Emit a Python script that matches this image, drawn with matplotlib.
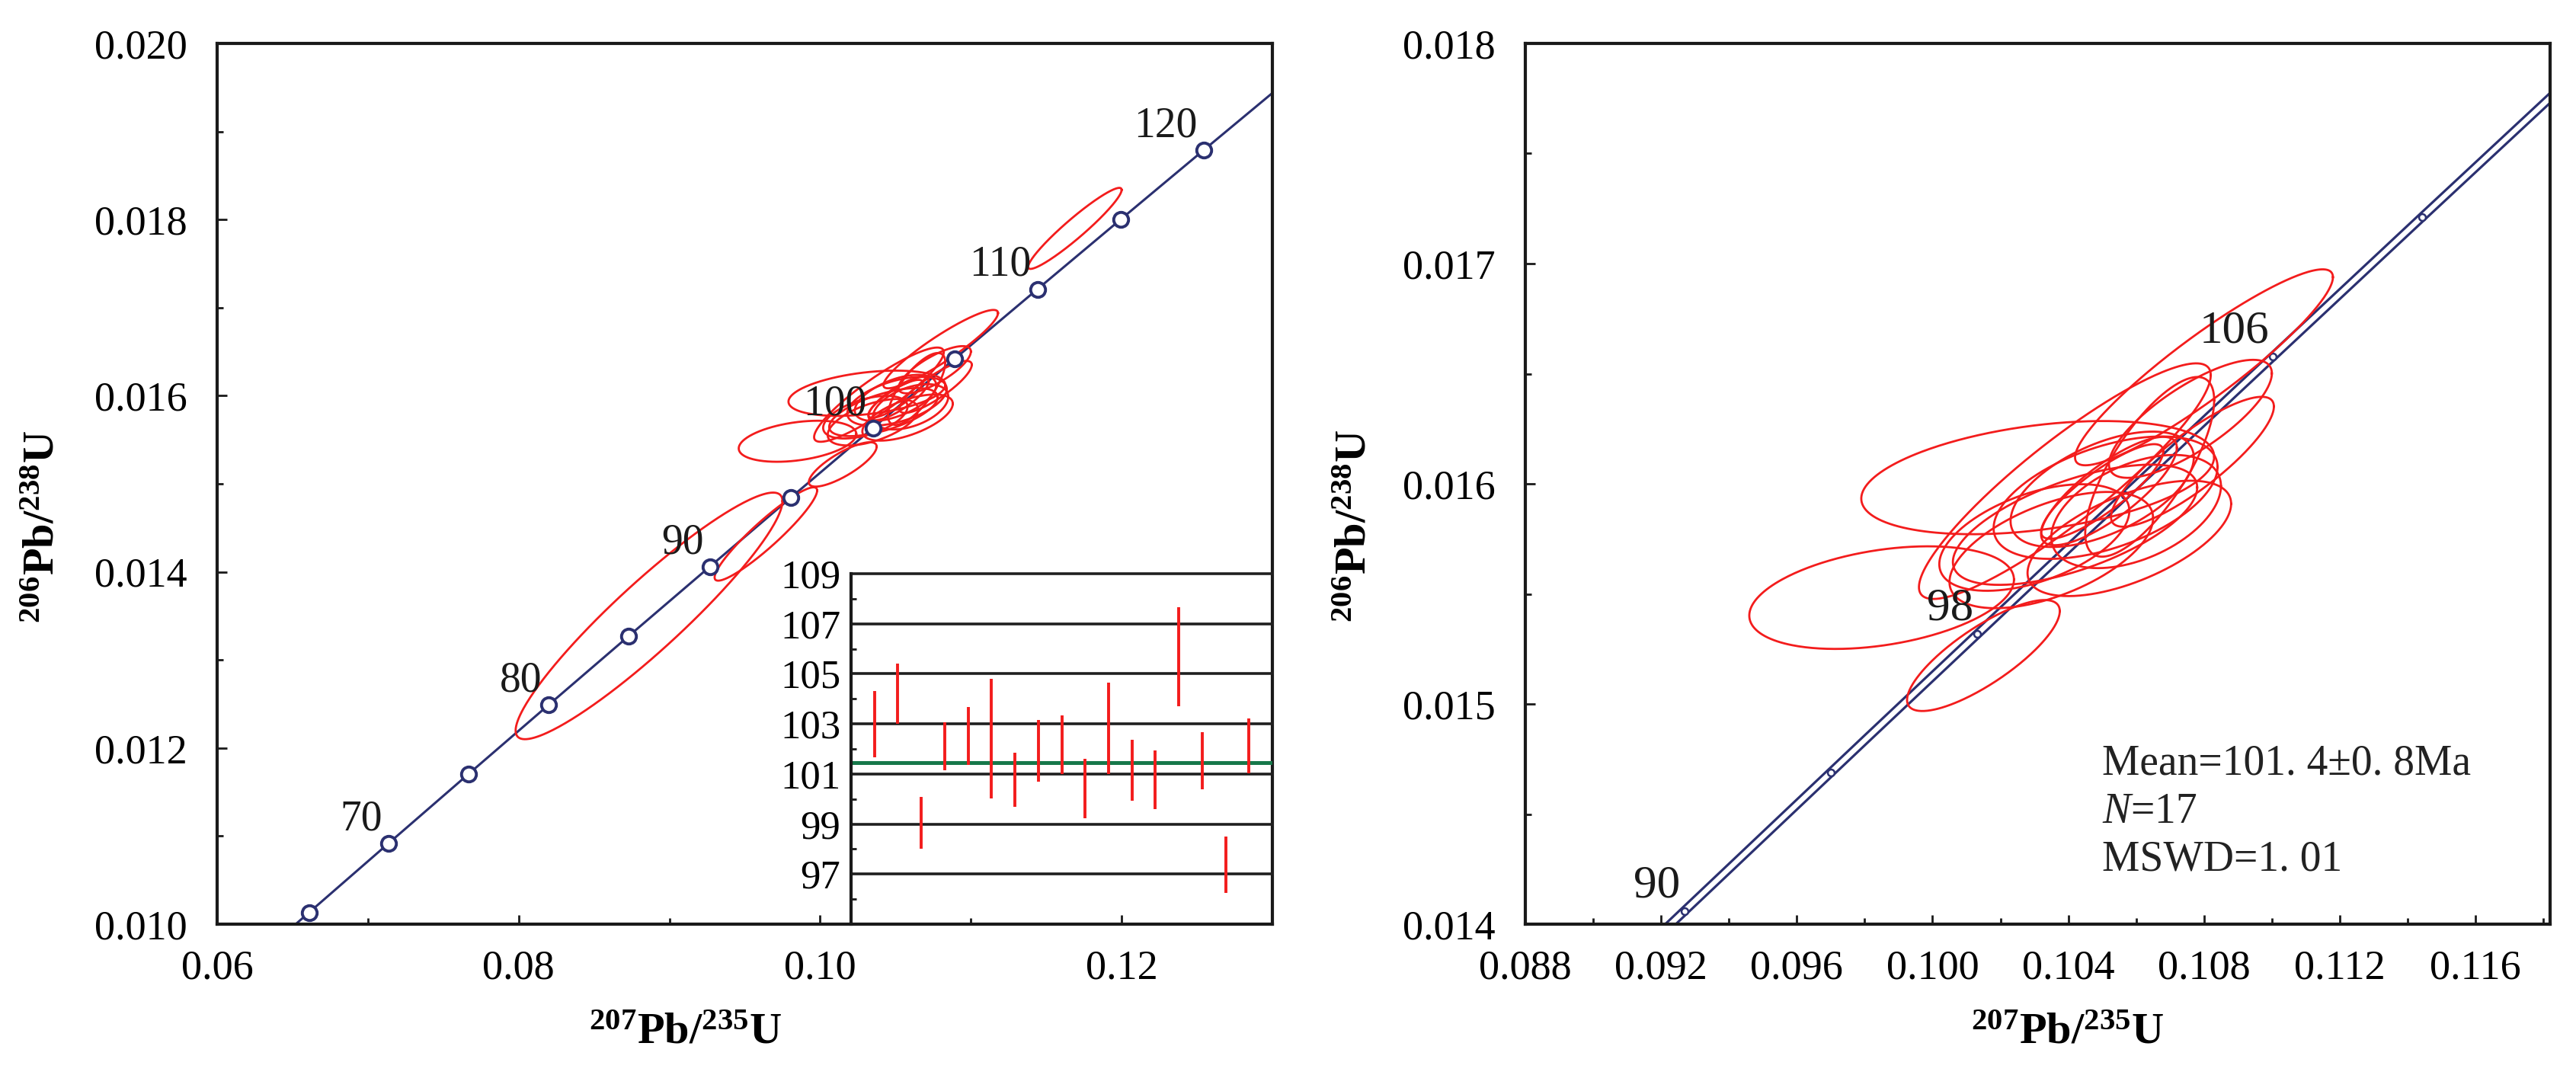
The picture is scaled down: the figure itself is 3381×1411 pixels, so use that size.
import numpy as np
import matplotlib
matplotlib.use('Agg')
import matplotlib.pyplot as plt
from matplotlib.ticker import MultipleLocator, FixedLocator, FormatStrFormatter

plt.rcParams['font.family'] = ['Liberation Serif', 'DejaVu Serif']
plt.rcParams['mathtext.fontset'] = 'custom'
plt.rcParams['mathtext.rm'] = 'Liberation Serif'
plt.rcParams['mathtext.bf'] = 'Liberation Serif:bold'
plt.rcParams['mathtext.it'] = 'Liberation Serif:italic'

# ---------------- data ----------------
# Concordia reference points (age in Ma, 207Pb/235U, 206Pb/238U)
conc_age = [60, 65, 70, 75, 80, 85, 90, 95, 100, 105, 110, 115, 120, 125, 130]
conc_x = [0.060872, 0.066109, 0.071371, 0.076660, 0.081975, 0.087316, 0.092683,
          0.098077, 0.103498, 0.108945, 0.114419, 0.119920, 0.125448, 0.131004, 0.136588]
conc_y = [0.0093508, 0.0101340, 0.0109177, 0.0117024, 0.0124873, 0.0132729, 0.0140592,
          0.0148460, 0.0156334, 0.0164215, 0.0172102, 0.0179994, 0.0187894, 0.0195798, 0.0203710]
left_marker_ages = [65, 70, 75, 80, 85, 90, 95, 100, 105, 110, 115, 120]
left_label_ages = [70, 80, 90, 100, 110, 120]

right_marker_ages = [90, 94, 98, 102, 106, 110]
right_marker_x = [0.092683, 0.096996, 0.101326, 0.105674, 0.110038, 0.114419]
right_marker_y = [0.0140592, 0.0146886, 0.0153184, 0.0159486, 0.0165792, 0.0172102]
right_label_ages = [90, 98, 106]

# Error ellipses (17 analyses used in the mean): centre, half-width, correlation
ell_x = [0.10766, 0.1076, 0.0985, 0.1050, 0.1031, 0.1039, 0.1030, 0.1051, 0.1050,
         0.1035, 0.1064, 0.1042, 0.1058, 0.1080, 0.1060, 0.1015, 0.1052]
ell_sx = [0.0024, 0.0024, 0.0039, 0.0018, 0.0052, 0.0043, 0.0028, 0.0033, 0.0027,
          0.0030, 0.0019, 0.0036, 0.0030, 0.0038, 0.0025, 0.00225, 0.0020]
ell_y = [0.016100, 0.016295, 0.015483, 0.015965, 0.016028, 0.016012, 0.015756, 0.015937,
         0.015975, 0.015699, 0.016077, 0.015814, 0.015752, 0.016529, 0.015874, 0.015220, 0.015967]
ell_sy = [0.000295, 0.000268, 0.000233, 0.000215, 0.000257, 0.000535, 0.000242, 0.000278,
          0.000262, 0.000264, 0.000408, 0.000273, 0.000262, 0.000445, 0.000257, 0.000252, 0.000246]
ell_rho = [0.85, 0.77, 0.35, 0.85, 0.37, 0.90, 0.50, 0.50, 0.55, 0.55, 0.74, 0.62,
           0.60, 0.92, 0.45, 0.80, 0.80]

# Additional analyses shown only on the full concordia
ext_x = [0.08865, 0.0964, 0.1169]
ext_sx = [0.00885, 0.0034, 0.0031]
ext_y = [0.0135, 0.01443, 0.0179]
ext_sy = [0.0014, 0.00053, 0.00046]
ext_rho = [0.93, 0.93, 0.95]

# Inset: 206Pb/238U ages (Ma) with error bars
age_index = list(range(1, 18))
age_val = [102.98, 104.20, 99.05, 102.11, 102.51, 102.41, 100.78, 101.93, 102.17,
           100.42, 102.82, 101.15, 100.76, 105.69, 101.53, 97.38, 102.12]
age_err = [1.32, 1.20, 1.04, 0.96, 1.15, 2.39, 1.08, 1.24, 1.17,
           1.18, 1.82, 1.22, 1.17, 1.98, 1.15, 1.13, 1.10]
mean_age = 101.45
inset_grid = [97, 99, 101, 103, 105, 107, 109]
inset_ticks = [97, 99, 101, 103, 105, 107, 109]

stats_text = ["Mean=101. 4\u00b10. 8Ma", "$N$=17", "MSWD=1. 01"]

# ---------------- styles ----------------
NAVY = '#2b3070'
RED = '#f31c1c'
GREEN = '#17784a'
W, H = 3381, 1411
DPI = 200

fig = plt.figure(figsize=(W / DPI, H / DPI), dpi=DPI)


def px_axes(l, t, r, b):
    return [l / W, 1 - b / H, (r - l) / W, (b - t) / H]


def ellipse(cx, sx, cy, sy, rho, n=300):
    t = np.linspace(0, 2 * np.pi, n)
    x = cx + sx * np.cos(t)
    y = cy + sy * (rho * np.cos(t) + np.sqrt(1 - rho ** 2) * np.sin(t))
    return x, y


def style_axes(ax):
    for s in ax.spines.values():
        s.set_linewidth(1.5)
        s.set_color('#1a1a1a')
    ax.tick_params(which='both', direction='in', top=False, right=False,
                   labelsize=19.5, width=1.0, color='#1a1a1a')
    ax.tick_params(which='major', length=4.5)
    ax.tick_params(which='minor', length=3.0)
    ax.tick_params(axis='x', pad=12)
    ax.tick_params(axis='y', pad=14)


# ---------------- left panel ----------------
axL = fig.add_axes(px_axes(285, 57, 1670, 1213))
axL.set_xlim(0.06, 0.13)
axL.set_ylim(0.010, 0.020)
axL.plot(conc_x, conc_y, color=NAVY, lw=1.1, zorder=2)

for cx, sx, cy, sy, r in zip(ell_x + ext_x, ell_sx + ext_sx, ell_y + ext_y,
                             ell_sy + ext_sy, ell_rho + ext_rho):
    ex, ey = ellipse(cx, sx, cy, sy, r)
    axL.plot(ex, ey, color=RED, lw=1.0, zorder=3)

mx = [conc_x[conc_age.index(a)] for a in left_marker_ages]
my = [conc_y[conc_age.index(a)] for a in left_marker_ages]
axL.plot(mx, my, 'o', ms=7, mfc='white', mec=NAVY, mew=1.4, zorder=5)
for a in left_label_ages:
    i = conc_age.index(a)
    axL.annotate(str(a), (conc_x[i], conc_y[i]), xytext=(-3, 2), textcoords='offset points',
                 ha='right', va='bottom', fontsize=20, color='#1a1a1a', zorder=6)

axL.xaxis.set_major_locator(FixedLocator([0.06, 0.08, 0.10, 0.12]))
axL.xaxis.set_major_formatter(FormatStrFormatter('%.2f'))
axL.xaxis.set_minor_locator(MultipleLocator(0.01))
axL.yaxis.set_major_locator(MultipleLocator(0.002))
axL.yaxis.set_major_formatter(FormatStrFormatter('%.3f'))
axL.yaxis.set_minor_locator(MultipleLocator(0.001))
style_axes(axL)

axL.text(0.444, -0.123, r'$\mathbf{^{207}Pb/^{235}U}$', transform=axL.transAxes,
         ha='center', va='center', fontsize=21)
axL.text(-0.165, 0.451, r'$\mathbf{^{206}Pb/^{238}U}$', transform=axL.transAxes,
         ha='center', va='center', fontsize=21, rotation=90)

# ---------------- inset ----------------
axI = fig.add_axes(px_axes(1117, 753, 1670, 1213))
axI.patch.set_alpha(0)
axI.set_xlim(0, 18)
axI.set_ylim(95, 109)
for g in inset_grid:
    axI.axhline(g, color='#1f1f1f', lw=1.3, zorder=1, clip_on=False)
axI.axhline(mean_age, color=GREEN, lw=1.8, zorder=2)
axI.vlines(age_index, [v - e for v, e in zip(age_val, age_err)],
           [v + e for v, e in zip(age_val, age_err)], color=RED, lw=1.4, zorder=3)
for side in ['top', 'right', 'bottom']:
    axI.spines[side].set_visible(False)
axI.spines['left'].set_linewidth(1.5)
axI.spines['left'].set_color('#1a1a1a')
axI.set_xticks([])
axI.yaxis.set_major_locator(FixedLocator(inset_ticks))
axI.yaxis.set_minor_locator(FixedLocator([96, 98, 100, 102, 104, 106, 108]))
axI.tick_params(axis='y', which='both', direction='in', labelsize=19, pad=5, color='#1a1a1a')
axI.tick_params(axis='y', which='major', length=0)
axI.tick_params(axis='y', which='minor', length=2.5, width=1.0)

# ---------------- right panel ----------------
axR = fig.add_axes(px_axes(2002, 57, 3347, 1213))
axR.set_xlim(0.088, 0.1182)
axR.set_ylim(0.014, 0.018)
axR.plot(conc_x, conc_y, color=NAVY, lw=4.6, zorder=2, solid_capstyle='butt')
axR.plot(conc_x, conc_y, color='white', lw=2.3, zorder=2.1, solid_capstyle='butt')
for cx, sx, cy, sy, r in zip(ell_x, ell_sx, ell_y, ell_sy, ell_rho):
    ex, ey = ellipse(cx, sx, cy, sy, r)
    axR.plot(ex, ey, color=RED, lw=1.0, zorder=3)
axR.plot(right_marker_x, right_marker_y, 'o', ms=3.2, mfc='white', mec=NAVY, mew=0.9, zorder=2.5)
for a in right_label_ages:
    i = right_marker_ages.index(a)
    axR.annotate(str(a), (right_marker_x[i], right_marker_y[i]), xytext=(-2, 2),
                 textcoords='offset points', ha='right', va='bottom', fontsize=22,
                 color='#1a1a1a', zorder=6)

axR.xaxis.set_major_locator(FixedLocator([0.088, 0.092, 0.096, 0.100, 0.104, 0.108, 0.112, 0.116]))
axR.xaxis.set_major_formatter(FormatStrFormatter('%.3f'))
axR.xaxis.set_minor_locator(MultipleLocator(0.002))
axR.yaxis.set_major_locator(MultipleLocator(0.001))
axR.yaxis.set_major_formatter(FormatStrFormatter('%.3f'))
axR.yaxis.set_minor_locator(MultipleLocator(0.0005))
style_axes(axR)

for k, line in enumerate(stats_text):
    axR.text(0.563, 0.182 - k * 0.0545, line, transform=axR.transAxes, ha='left',
             va='center', fontsize=20, color='#222222')

axR.text(0.529, -0.123, r'$\mathbf{^{207}Pb/^{235}U}$', transform=axR.transAxes,
         ha='center', va='center', fontsize=21)
axR.text(-0.166, 0.452, r'$\mathbf{^{206}Pb/^{238}U}$', transform=axR.transAxes,
         ha='center', va='center', fontsize=21, rotation=90)

fig.savefig('out.png', dpi=DPI, facecolor='white')
